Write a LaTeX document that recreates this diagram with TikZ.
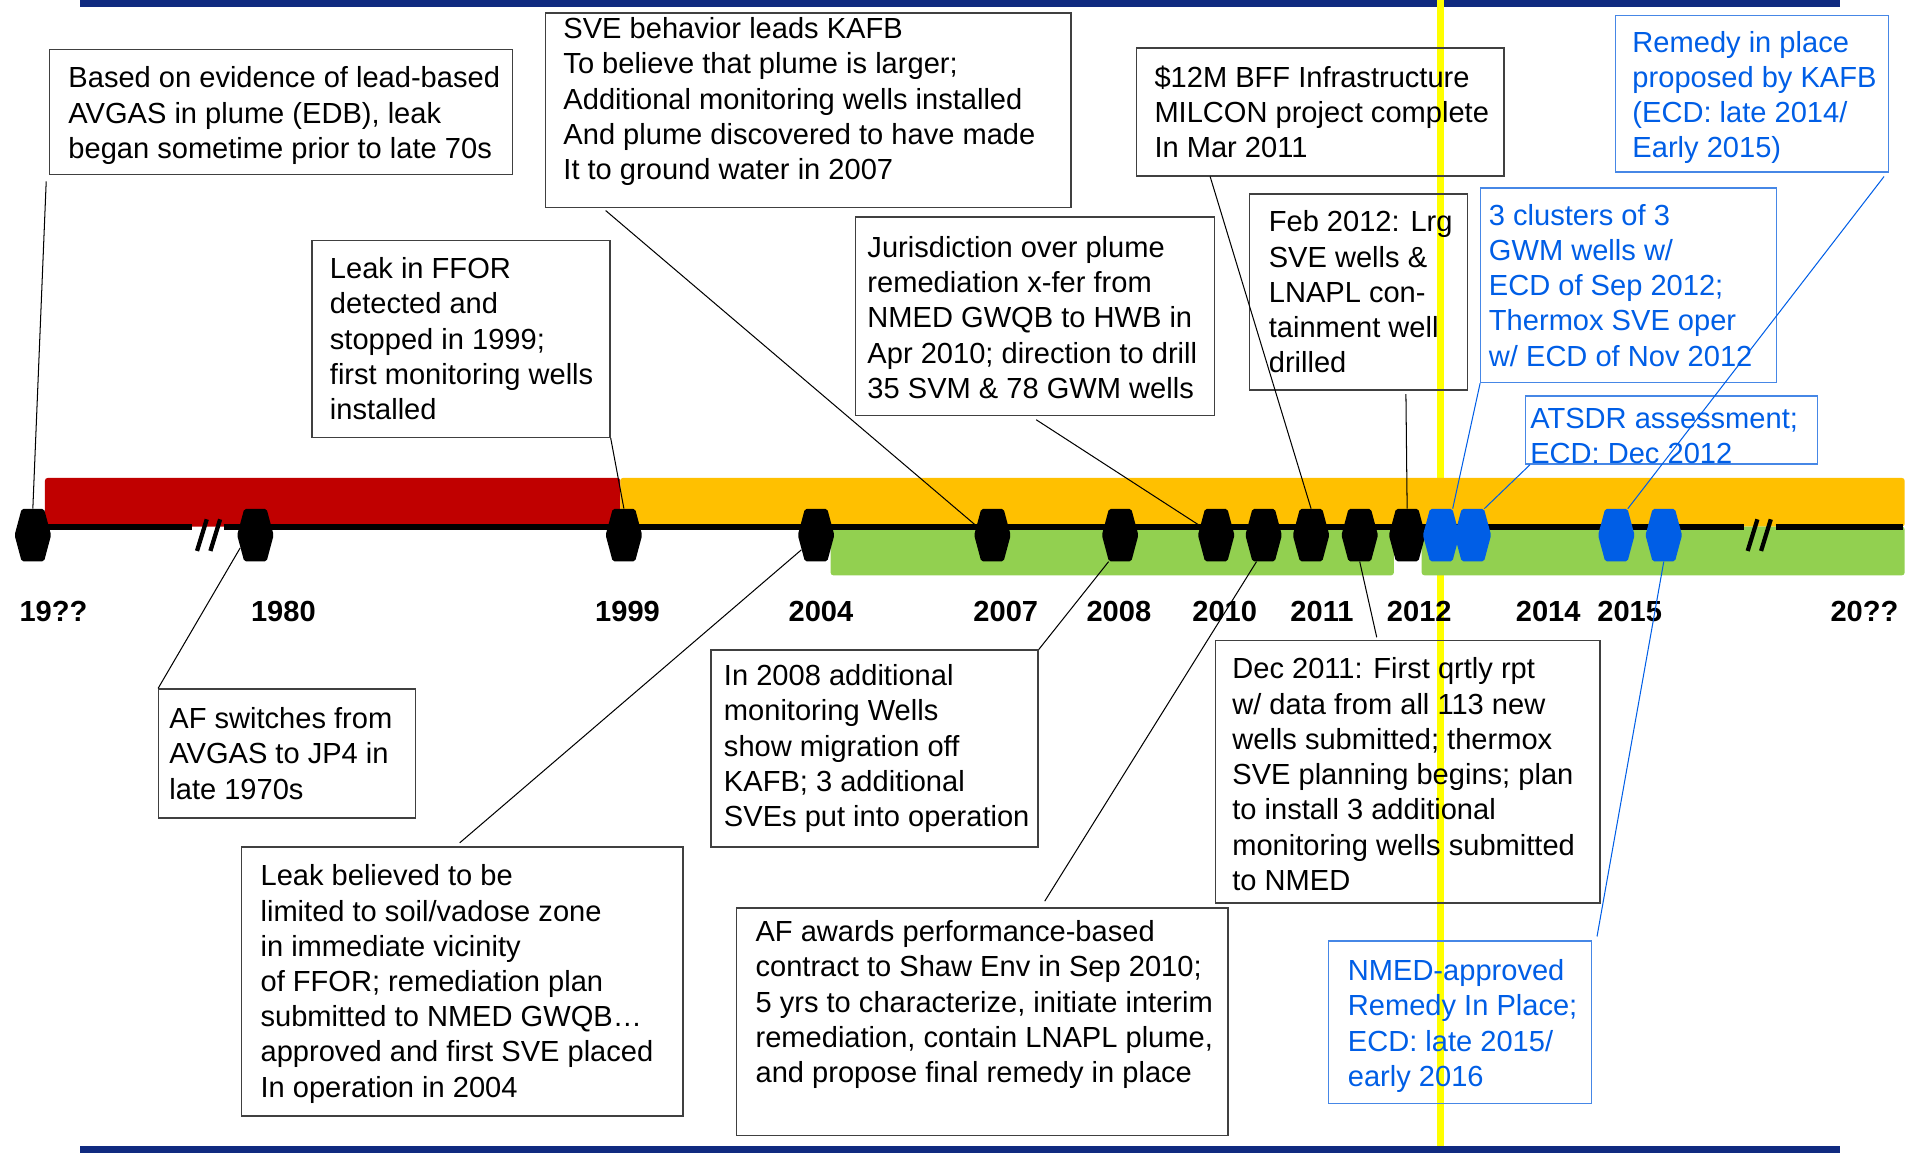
\documentclass[tikz,border=0pt]{standalone}
\usepackage{fontspec}
\setmainfont{Liberation Sans}
\usetikzlibrary{shapes.symbols}

\newdimen\px \px=0.025cm
\definecolor{navy}{RGB}{16,42,128}
\definecolor{hilite}{RGB}{255,255,0}
\definecolor{leakred}{RGB}{192,0,0}
\definecolor{amber}{RGB}{255,192,0}
\definecolor{leafgreen}{RGB}{146,208,80}
\definecolor{planblue}{RGB}{0,94,230}
\definecolor{planframe}{RGB}{70,135,230}
\definecolor{boxgray}{RGB}{64,64,64}

\begin{document}
\begin{tikzpicture}[
  x=0.025cm, y=-0.025cm,
  font=\fontsize{17}{20.6}\selectfont,
  event/.style={draw=boxgray, line width=0.8pt, anchor=north west, inner sep=0pt},
  plan/.style={event, draw=planframe},
  note/.style={anchor=west, align=left, inner sep=0pt},
  plannote/.style={note, text=planblue},
  yearmark/.style={signal, signal to=east and west, signal pointer angle=150, fill=black,
    minimum width=30\px, minimum height=43\px, inner sep=0pt, rounded corners=1pt},
  year/.style={font=\fontsize{17}{20}\selectfont\bfseries},
  link/.style={line width=0.6pt},
  planlink/.style={link, planblue},
  brk/.style={line width=3.5\px},
]
\useasboundingbox (0,0) rectangle (1568,948);

% ---- frame bars and today marker
\fill[navy] (66,0) rectangle (1513,6);
\draw[hilite, line width=6\px] (1184.5,0) -- (1184.5,948);
\fill[navy] (66,942) rectangle (1513,948);

% ---- phase bands
\fill[leakred, rounded corners=1.5pt] (37,393) rectangle (510,433);
\fill[amber, rounded corners=1.5pt] (510,393) rectangle (1566,433);
\fill[leafgreen, rounded corners=1.5pt] (683,433) rectangle (1146,473);
\fill[leafgreen, rounded corners=1.5pt] (1169,433) rectangle (1566,473);

% ---- time axis with breaks
\draw[line width=5\px] (37,433) -- (158,433) (184,433) -- (1434,433) (1460,433) -- (1565,433);
\draw[brk] (162,453) -- (170,427) (173,453) -- (181,427);
\draw[brk] (1437,453) -- (1445,427) (1448,453) -- (1456,427);

% ---- year marks
\foreach \x/\nm in {27/h19, 210/h1980, 513/h1999, 671/h2004, 816/h2007, 921/h2008,
    1000/h2010a, 1039/h2010b, 1078/h2011a, 1118/h2011b, 1157/h2012}
  \node[yearmark] (\nm) at (\x,440) {};
\foreach \x/\nm in {1185/b2012a, 1211/b2012b, 1329/b2015a, 1368/b2015b}
  \node[yearmark, fill=planblue] (\nm) at (\x,440) {};
\foreach \x/\yr [count=\i] in {44/19??, 233/1980, 516/1999, 675/2004, 827/2007, 920/2008,
    1007/2010, 1087/2011, 1167/2012, 1273/2014, 1340/2015, 1533/20??}
  \node[year] (yr\i) at (\x,503) {\yr};

% ---- events above the axis
\node[event, minimum width=381\px, minimum height=103\px] (avgasbox) at (40,40) {};
\node[note] (avgas) at ([xshift=16\px, yshift=-3\px]avgasbox.west) {Based on evidence of lead-based\\AVGAS in plume (EDB), leak\\began sometime prior to late 70s};

\node[event, minimum width=432\px, minimum height=160\px] (svebox) at (448,10) {};
\node[note] (sve) at ([xshift=15\px, yshift=7\px]svebox.west) {SVE behavior leads KAFB\\To believe that plume is larger;\\Additional monitoring wells installed\\And plume discovered to have made\\It to ground water in 2007};

\node[event, minimum width=245\px, minimum height=162\px] (fforbox) at (256,197) {};
\node[note] (ffor) at ([xshift=15\px]fforbox.west) {Leak in FFOR\\detected and\\stopped in 1999;\\first monitoring wells\\installed};

\node[event, minimum width=295\px, minimum height=163\px] (jurisbox) at (703,178) {};
\node[note] (juris) at ([xshift=10\px, yshift=-1\px]jurisbox.west) {Jurisdiction over plume\\remediation x-fer from\\NMED GWQB to HWB in\\Apr 2010; direction to drill\\35 SVM \& 78 GWM wells};

\node[event, minimum width=302\px, minimum height=105\px] (milconbox) at (934,39) {};
\node[note] (milcon) at ([xshift=15\px]milconbox.west) {\$12M BFF Infrastructure\\MILCON project complete\\In Mar 2011};

\node[event, minimum width=179\px, minimum height=161\px] (lnaplbox) at (1027,159) {};
\node[note] (lnapl) at ([xshift=16\px]lnaplbox.west) {Feb 2012: Lrg\\SVE wells \&\\LNAPL con-\\tainment well\\drilled};

\node[plan, minimum width=224\px, minimum height=129\px] (remedybox) at (1328,12) {};
\node[plannote] (remedy) at ([xshift=14\px, yshift=-3\px]remedybox.west) {Remedy in place\\proposed by KAFB\\(ECD: late 2014/\\Early 2015)};

\node[plan, minimum width=243\px, minimum height=160\px] (clusterbox) at (1217,154) {};
\node[plannote] (cluster) at ([xshift=7\px]clusterbox.west) {3 clusters of 3\\GWM wells w/\\ECD of Sep 2012;\\Thermox SVE oper\\w/ ECD of Nov 2012};

\node[plan, minimum width=240\px, minimum height=56\px] (atsdrbox) at (1254,325) {};
\node[plannote] (atsdr) at ([xshift=4\px, yshift=-5\px]atsdrbox.west) {ATSDR assessment;\\ECD: Dec 2012};

% ---- events below the axis
\node[event, minimum width=211\px, minimum height=106\px] (switchbox) at (130,566) {};
\node[note] (switch) at ([xshift=9\px]switchbox.west) {AF switches from\\AVGAS to JP4 in\\late 1970s};

\node[event, minimum width=363\px, minimum height=221\px] (vadosebox) at (198,696) {};
\node[note] (vadose) at ([xshift=16\px, yshift=-2\px]vadosebox.west) {Leak believed to be\\limited to soil/vadose zone\\in immediate vicinity\\of FFOR; remediation plan\\submitted to NMED GWQB…\\approved and first SVE placed\\In operation in 2004};

\node[event, minimum width=269\px, minimum height=162\px] (migratebox) at (584,534) {};
\node[note] (migrate) at ([xshift=11\px]migratebox.west) {In 2008 additional\\monitoring Wells\\show migration off\\KAFB; 3 additional\\SVEs put into operation};

\node[event, minimum width=404\px, minimum height=187\px] (shawbox) at (605,746) {};
\node[note] (shaw) at ([xshift=16\px, yshift=14\px]shawbox.west) {AF awards performance-based\\contract to Shaw Env in Sep 2010;\\5 yrs to characterize, initiate interim\\remediation, contain LNAPL plume,\\and propose final remedy in place};

\node[event, minimum width=316\px, minimum height=216\px] (qrtlybox) at (999,526) {};
\node[note] (qrtly) at ([xshift=14\px, yshift=-2\px]qrtlybox.west) {Dec 2011: First qrtly rpt\\w/ data from all 113 new\\wells submitted; thermox\\SVE planning begins; plan\\to install 3 additional\\monitoring wells submitted\\to NMED};

\node[plan, minimum width=216\px, minimum height=134\px] (nmedbox) at (1092,773) {};
\node[plannote] (nmed) at ([xshift=16\px, yshift=-3\px]nmedbox.west) {NMED-approved\\Remedy In Place;\\ECD: late 2015/\\early 2016};

% ---- leaders from boxes to year marks
\draw[link] ([xshift=-2\px, yshift=-5\px]avgasbox.south west) -- (h19.north);
\draw[link] ([xshift=50\px, yshift=-2\px]svebox.south west) -- (h2007.150);
\draw[link] (fforbox.south east) -- (h1999.north);
\draw[link] ([xshift=149\px, yshift=-3\px]jurisbox.south west) -- (h2010a.150);
\draw[link] ([xshift=61\px]milconbox.south west) -- (h2011a.north);
\draw[link] ([xshift=129\px, yshift=-3\px]lnaplbox.south west) -- (h2012.north);
\draw[planlink] ([xshift=-4\px, yshift=-3\px]remedybox.south east) -- (b2015a.north east);
\draw[planlink] (clusterbox.south west) -- (b2012a.north east);
\draw[planlink] ([xshift=4\px]atsdrbox.south west) -- (b2012b.north east);
\draw[link] (switchbox.north west) -- (h1980.220);
\draw[link] ([xshift=180\px, yshift=3\px]vadosebox.north west) -- (h2004.225);
\draw[link] (migratebox.north east) -- (h2008.south west);
\draw[link] ([xshift=254\px, yshift=5\px]shawbox.north west) -- (h2010b.255);
\draw[link] ([xshift=133\px, yshift=2\px]qrtlybox.north west) -- (h2011b.south);
\draw[planlink] ([xshift=4\px, yshift=3\px]nmedbox.north east) -- (b2015b.south);
\end{tikzpicture}
\end{document}
